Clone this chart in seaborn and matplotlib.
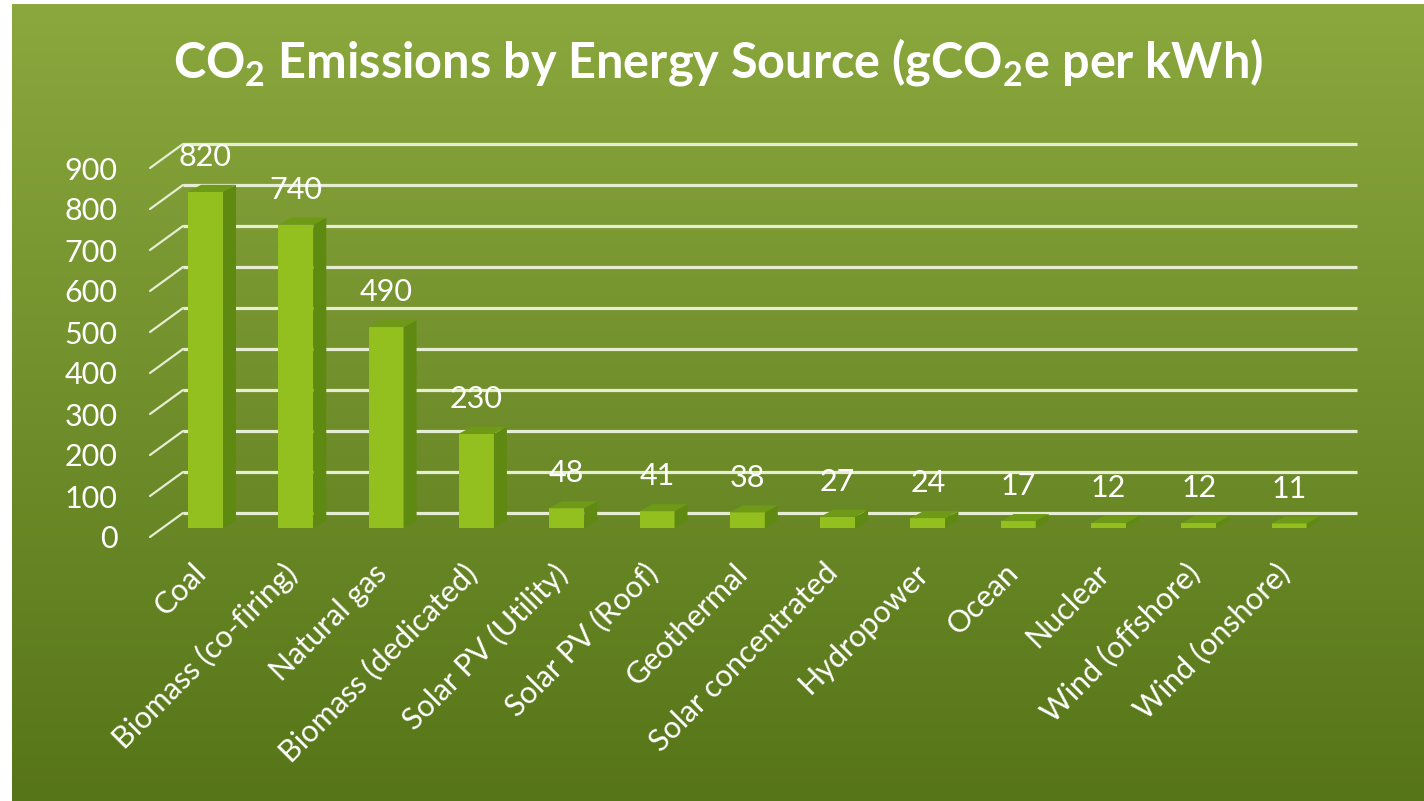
import numpy as np
import matplotlib
matplotlib.use("Agg")
import matplotlib.pyplot as plt
from matplotlib.patches import Polygon
from matplotlib.transforms import ScaledTranslation
import seaborn as sns

# data
sources = ["Coal", "Biomass (co-firing)", "Natural gas", "Biomass (dedicated)",
           "Solar PV (Utility)", "Solar PV (Roof)", "Geothermal", "Solar concentrated",
           "Hydropower", "Ocean", "Nuclear", "Wind (offshore)", "Wind (onshore)"]
emissions = [820, 740, 490, 230, 48, 41, 38, 27, 24, 17, 12, 12, 11]
y_ticks = [0, 100, 200, 300, 400, 500, 600, 700, 800, 900]

sns.set_theme(style="white")
plt.rcParams["font.family"] = ["Lato", "DejaVu Sans"]
plt.rcParams["mathtext.fontset"] = "custom"
plt.rcParams["mathtext.rm"] = "Lato"
plt.rcParams["mathtext.bf"] = "Lato:bold"

W, H = 1424, 801
fig = plt.figure(figsize=(W / 100, H / 100), dpi=100)
fig.patch.set_facecolor("white")

# green gradient background (left/top white margin)
bg = fig.add_axes([12 / W, 0, (W - 12) / W, (H - 4) / H])
top_c = np.array([139, 168, 62]) / 255
bot_c = np.array([86, 117, 24]) / 255
t = np.linspace(0, 1, 256)[:, None]
grad = top_c[None, :] * (1 - t) + bot_c[None, :] * t
bg.imshow(grad[:, None, :], aspect="auto", extent=[0, 1, 0, 1])
bg.set_axis_off()

# plot axes, pixel box
L, R, B, T = 140, 1370, 545, 130
ax = fig.add_axes([L / W, (H - B) / H, (R - L) / W, (B - T) / H])
ax.patch.set_alpha(0)

px_x = 90.3      # px per category
px_y = 0.41      # px per unit
x0_px, y0_px = 205.5, 528

def xd(px):
    return (px - x0_px) / px_x

def yd(py):
    return (y0_px - py) / px_y

bar_w = 35 / px_x
depth_x = 13 / px_x
depth_y = 7 / px_y
front_off = yd(537)        # front plane zero
back_off = yd(513)         # back wall zero

grid_c = "#e6edd2"
for v in y_ticks:
    ax.plot([xd(183), xd(1357)], [v + back_off, v + back_off], color=grid_c, lw=2.3,
            zorder=1, solid_capstyle="butt")
    ax.plot([xd(150), xd(183)], [v + front_off, v + back_off], color=grid_c, lw=1.6, zorder=1)

front_c = "#93c01f"
side_c = "#5f8a12"
topf_c = "#6e9a17"
sns.barplot(x=sources, y=emissions, width=bar_w, color=front_c, saturation=1,
            linewidth=0, ax=ax, zorder=3)

for p, val in zip(ax.patches, emissions):
    xl = p.get_x()
    xr = xl + p.get_width()
    h = p.get_height()
    side = Polygon([(xr, 0), (xr + depth_x, depth_y), (xr + depth_x, h + depth_y), (xr, h)],
                   closed=True, facecolor=side_c, edgecolor="none", zorder=3)
    topf = Polygon([(xl, h), (xr, h), (xr + depth_x, h + depth_y), (xl + depth_x, h + depth_y)],
                   closed=True, facecolor=topf_c, edgecolor="none", zorder=3)
    ax.add_patch(side)
    ax.add_patch(topf)
    ax.text(xl + p.get_width() / 2, h + 85, f"{val}", ha="center", va="center",
            color="white", fontsize=22, zorder=4)

ax.set_xlim(xd(L), xd(R))
ax.set_ylim(yd(B), yd(T))
ax.set_yticks([v + front_off for v in y_ticks])
ax.set_yticklabels([str(v) for v in y_ticks])
ax.tick_params(axis="y", length=0, pad=16, labelsize=22, labelcolor="white")
ax.tick_params(axis="x", length=0, pad=4, labelsize=22, labelcolor="white")
ax.set_xticks(range(len(sources)))
ax.set_xticklabels(sources, rotation=45, ha="right", rotation_mode="anchor")
shift = ScaledTranslation(-14 / 100, -8 / 100, fig.dpi_scale_trans)
for lab in ax.get_xticklabels():
    lab.set_transform(lab.get_transform() + shift)
ax.set_xlabel("")
ax.set_ylabel("")
for s in ax.spines.values():
    s.set_visible(False)

fig.text(718 / W, 1 - 62 / H,
         r"CO$_\mathbf{2}$ Emissions by Energy Source (gCO$_\mathbf{2}$e per kWh)",
         ha="center", va="center", color="white", fontsize=35, fontweight="bold")

fig.savefig("out.png", dpi=100)
